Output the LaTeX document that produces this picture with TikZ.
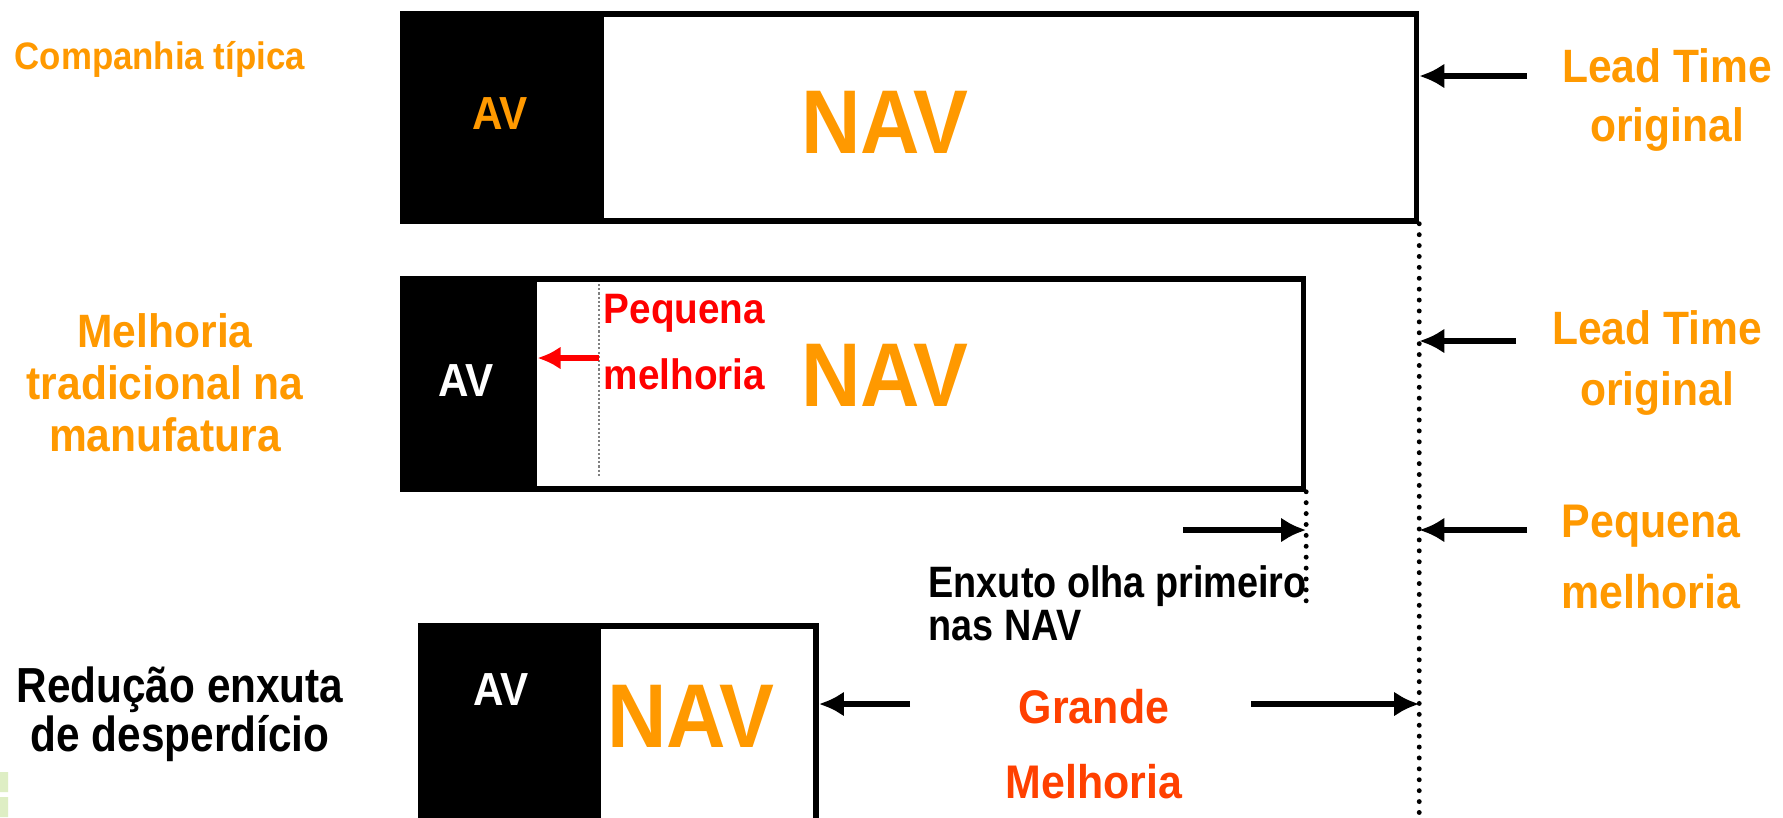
\documentclass[tikz,border=0pt]{standalone}
\usepackage{fontspec}
\setmainfont{Liberation Sans}
\usetikzlibrary{positioning,arrows.meta}
\definecolor{navorange}{RGB}{255,153,0}
\definecolor{bigred}{RGB}{255,64,0}
\definecolor{slidegreen}{RGB}{222,238,196}
\newcommand{\fsz}[2]{\fontsize{#1}{#2}\selectfont\bfseries}
\tikzset{
  flowarrow/.style={-{Latex[length=2.5mm, width=2.5mm]}, line width=1.6pt},
  redarrow/.style={-{Latex[length=2.3mm, width=2.3mm]}, line width=1.6pt, red},
  barbox/.style={draw, fill=white, line width=1.6pt, anchor=north west, inner sep=0pt},
  avpart/.style={fill=black, anchor=north west, inner sep=0pt},
  leadline/.style={line width=1.4pt, dash pattern=on 0pt off 3.1pt, line cap=round},
  oldline/.style={gray, line width=0.5pt, dash pattern=on 0.6pt off 0.6pt},
  navtext/.style={text=navorange, font=\fsz{23.4}{28}, yscale=1.1},
  avtext/.style={font=\fsz{12}{14}, yscale=1.1},
  rowlabel/.style={align=center, text=navorange, yscale=1.1},
  blacknote/.style={text=black, xscale=0.86}
}
\begin{document}
\begin{tikzpicture}[x=0.01cm, y=-0.01cm, inner sep=0pt]
  \clip (0,0) rectangle (1783,817);
  \fill[white] (0,0) rectangle (1783,817);
  \fill[slidegreen] (0,772) rectangle (8,792) (0,797) rectangle (8,817);

  % typical company
  \node[barbox, minimum width=10.13cm, minimum height=2.07cm] (box1) at (400,11) {};
  \node[avpart, minimum width=2.03cm, minimum height=2.07cm] (av1) at (400,11) {};
  \node[avtext, text=navorange] (av1t) at (500,114) {AV};
  \node[navtext] (nav1) at (885,122) {NAV};
  \node[anchor=west, text=navorange, font=\fsz{9.9}{12}, yscale=1.1] (typical) at (14,59) {Companhia típica};

  % traditional improvement
  \node[barbox, minimum width=9.00cm, minimum height=2.10cm] (box2) at (400,276) {};
  \node[avpart, minimum width=1.36cm, minimum height=2.10cm] (av2) at (400,276) {};
  \node[avtext, text=white] (av2t) at (466,381) {AV};
  \node[navtext] (nav2) at (885,375) {NAV};
  \draw[oldline] (599,284) -- (599,478);
  \coordinate (smallstep) at (599,358);
  \draw[redarrow] (smallstep) -- (av2.east |- smallstep);
  \node[anchor=west, align=left, text=red, font=\fsz{11}{17}, yscale=1.1] (smalltxt) at (603,342) {Pequena\\melhoria};
  \node[rowlabel, font=\fsz{12.1}{13.5}] (tradlab) at (165,383) {Melhoria\\tradicional na\\manufatura};

  % lean reduction
  \node[barbox, minimum width=3.95cm, minimum height=2.4cm] (box3) at (418,623) {};
  \node[avpart, minimum width=1.82cm, minimum height=2.4cm] (av3) at (418,623) {};
  \node[avtext, text=white] (av3t) at (501,690) {AV};
  \node[navtext] (nav3) at (691,716) {NAV};
  \node[blacknote, align=center, font=\fsz{14}{14}] (leanlab) at (180,714) {Redução enxuta\\de desperdício};

  % lead time marks
  \draw[leadline] (box1.south east) -- (box1.east |- 0,820);
  \draw[leadline] (box2.south east) -- ++(0,113);

  \coordinate (lt1) at (1527,76);
  \coordinate (lt2) at (1516,341);
  \coordinate (lt3) at (1527,530);
  \coordinate (lt4) at (1183,530);
  \coordinate (big1) at (910,704);
  \coordinate (big2) at (1251,704);
  \draw[flowarrow] (lt1) -- (box1.east |- lt1);
  \draw[flowarrow] (lt2) -- (box1.east |- lt2);
  \draw[flowarrow] (lt3) -- (box1.east |- lt3);
  \draw[flowarrow] (lt4) -- (box2.east |- lt4);
  \draw[flowarrow] (big1) -- (box3.east |- big1);
  \draw[flowarrow] (big2) -- (box1.east |- big2);

  \node[rowlabel, font=\fsz{12.1}{15.5}] (lead1) at (1667,100) {Lead Time\\original};
  \node[rowlabel, font=\fsz{12.1}{16}] (lead2) at (1657,363) {Lead Time\\original};
  \node[rowlabel, font=\fsz{12.2}{18.4}] (small2) at (1651,557) {Pequena\\melhoria};
  \node[blacknote, anchor=west, align=left, font=\fsz{12.5}{12.2}] (leanfirst) at (928,603) {Enxuto olha primeiro\\nas NAV};
  \node[rowlabel, text=bigred, font=\fsz{12.2}{19.4}] (bigstep) at (1094,744) {Grande\\Melhoria};
\end{tikzpicture}
\end{document}
